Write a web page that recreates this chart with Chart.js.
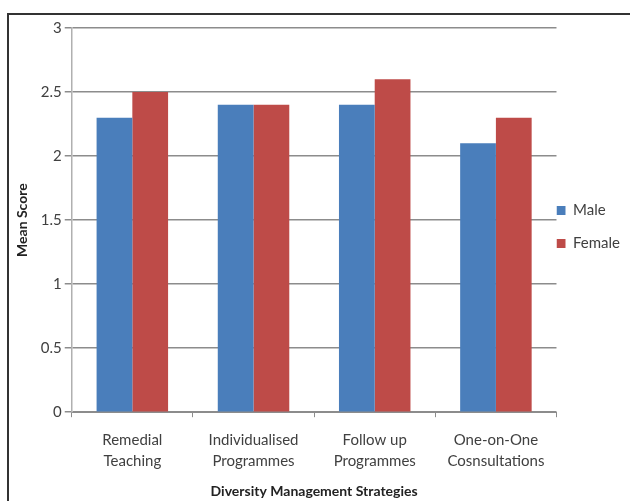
<!DOCTYPE html>
<html>
<head>
<meta charset="utf-8">
<script src="https://cdn.jsdelivr.net/npm/chart.js@4.4.0/dist/chart.umd.min.js"></script>
<style>
    html, body { margin: 0; padding: 0; background: #fff; }
    #wrap { position: relative; width: 630px; height: 501px; overflow: hidden; }
    #frame {
        position: absolute; left: 7px; top: 13px; width: 640px; height: 500px;
        border: 2px solid #333; box-sizing: border-box;
    }
    #chart { position: absolute; left: 0; top: 0; }
</style>
</head>
<body>
<div id="wrap">
    <div id="frame"></div>
    <canvas id="chart" width="630" height="501"></canvas>
</div>
<script>
// chart data
const categories = [
    ['Remedial', 'Teaching'],
    ['Individualised', 'Programmes'],
    ['Follow up', 'Programmes'],
    ['One-on-One', 'Cosnsultations']
];
const maleScores = [2.3, 2.4, 2.4, 2.1];
const femaleScores = [2.5, 2.4, 2.6, 2.3];
const yTicks = [0, 0.5, 1, 1.5, 2, 2.5, 3];

const FONT = 'Lato, "Liberation Sans", sans-serif';
const gridColor = '#8c8c8c';

const ctx = document.getElementById('chart');
const chart = new Chart(ctx.getContext('2d'), {
    type: 'bar',
    data: {
        labels: categories,
        datasets: [{
            label: 'Male',
            data: maleScores,
            backgroundColor: '#4a7ebb',
            categoryPercentage: 0.59,
            barPercentage: 1
        }, {
            label: 'Female',
            data: femaleScores,
            backgroundColor: '#be4b48',
            categoryPercentage: 0.59,
            barPercentage: 1
        }]
    },
    options: {
        responsive: false,
        animation: false,
        layout: {
            padding: { left: 14, top: 28, right: 0, bottom: 1 }
        },
        plugins: {
            tooltip: { enabled: false },
            legend: {
                position: 'right',
                fullSize: false,
                // blank title only nudges the legend rows down a little
                title: {
                    display: true,
                    text: ' ',
                    padding: 0,
                    font: { family: FONT, size: 16, lineHeight: 2 }
                },
                labels: {
                    boxWidth: 9,
                    boxHeight: 9,
                    padding: 0,
                    color: '#404040',
                    font: { family: FONT, size: 15, lineHeight: 2.2 },
                    // array text makes each row as tall as the font line height
                    generateLabels: c => Chart.defaults.plugins.legend.labels.generateLabels(c)
                        .map(item => Object.assign(item, { text: [item.text] }))
                }
            }
        },
        scales: {
            x: {
                grid: {
                    offset: true,
                    drawOnChartArea: false,
                    drawTicks: true,
                    tickLength: 5,
                    color: gridColor
                },
                border: { color: gridColor, width: 1 },
                ticks: {
                    color: '#404040',
                    padding: 12,
                    maxRotation: 0,
                    font: { family: FONT, size: 15, lineHeight: 1.4 }
                },
                title: {
                    display: true,
                    text: 'Diversity Management Strategies',
                    color: '#222',
                    padding: { top: 0, bottom: 0 },
                    font: { family: FONT, size: 14, weight: 'bold' }
                }
            },
            y: {
                min: 0,
                max: 3,
                afterBuildTicks: axis => {
                    axis.ticks = yTicks.map(v => ({ value: v }));
                },
                grid: {
                    color: gridColor,
                    lineWidth: 1.5,
                    tickLength: 7
                },
                border: { color: '#b0b0b0', width: 1.5 },
                ticks: {
                    color: '#404040',
                    padding: 3,
                    font: { family: FONT, size: 15 },
                    callback: v => String(v)
                },
                title: {
                    display: true,
                    text: 'Mean Score',
                    color: '#222',
                    padding: { top: 0, bottom: 7 },
                    font: { family: FONT, size: 14, weight: 'bold' }
                }
            }
        }
    }
});
</script>
</body>
</html>
